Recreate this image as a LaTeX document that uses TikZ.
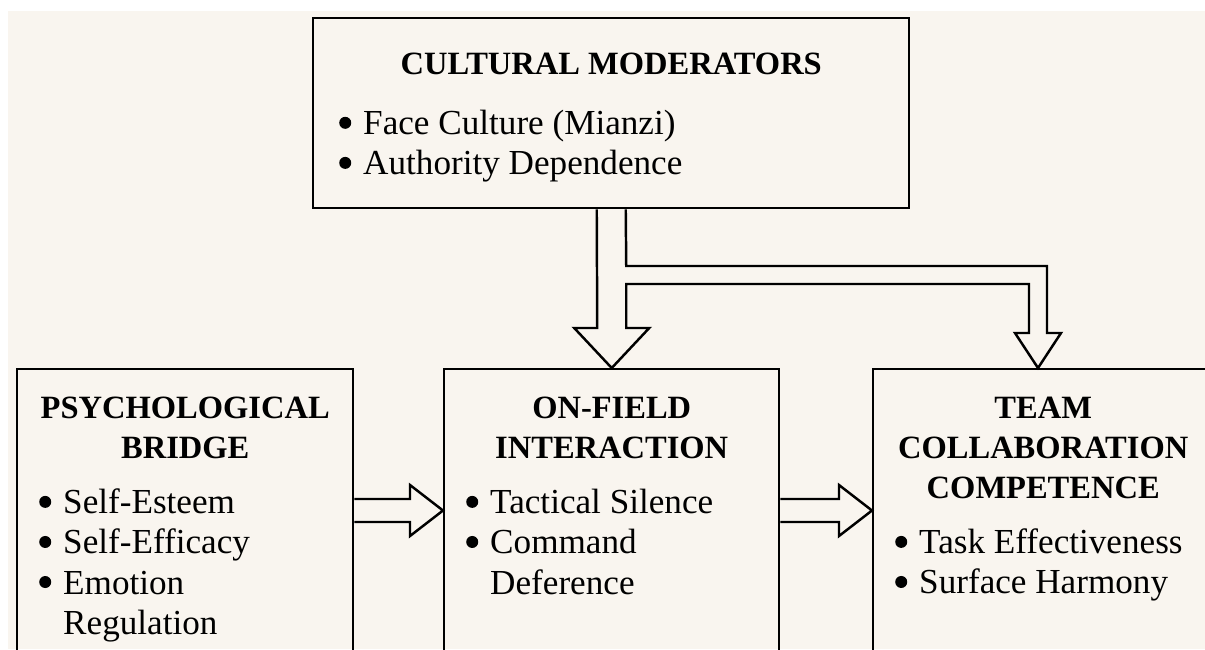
\documentclass[tikz,border=0pt]{standalone}
\usepackage{fontspec}
\setmainfont{Liberation Serif}
\usetikzlibrary{calc}

\definecolor{paper}{RGB}{249,245,239}
\newcommand{\dotmark}{\tikz[baseline=-0.24cm]\fill (0,0) circle (0.12cm);}
\newcommand{\paneltitle}[2][0.3cm]{{\centering\fontsize{18.5}{22.8}\selectfont\bfseries #2\par}\vspace{#1}}
\newcommand{\pitem}[1]{\par\noindent\hangindent=0.48cm\hangafter=1\makebox[0.48cm][l]{\dotmark}#1}
\newcommand{\panelbody}[3]{\parbox[t][#1][t]{#2}{\raggedright\fontsize{20}{22.8}\selectfont #3}}

\begin{document}
\begin{tikzpicture}[
    panel/.style={draw, line width=1.4pt, inner xsep=0.44cm, inner ysep=0.56cm, anchor=north west},
    hollow/.style={draw, fill=paper, line width=1.4pt, line join=miter}]
  \useasboundingbox (0,0) rectangle (24.1,-12.98);
  \clip (0,0) rectangle (24.1,-12.98);
  \fill[white] (0,0) rectangle (24.1,-12.98);
  \fill[paper] (0.16,-0.22) rectangle (24.1,-12.98); % Paper

  \node[panel, inner xsep=0.52cm, inner ysep=0.7cm] (mod) at (6.24,-0.34)
    {\panelbody{2.4cm}{10.88cm}{\paneltitle[0.4cm]{CULTURAL MODERATORS}\pitem{Face Culture (Mianzi)}\pitem{Authority Dependence}}};
  \node[panel] (psych) at (0.32,-7.36)
    {\panelbody{6cm}{5.84cm}{\paneltitle{PSYCHOLOGICAL\\BRIDGE}\pitem{Self-Esteem}\pitem{Self-Efficacy}\pitem{Emotion Regulation}}};
  \node[panel] (onfield) at (8.86,-7.36)
    {\panelbody{6cm}{5.82cm}{\paneltitle{ON-FIELD\\INTERACTION}\pitem{Tactical Silence}\pitem{Command Deference}}};
  \node[panel] (team) at (17.44,-7.36)
    {\panelbody{6cm}{5.92cm}{\paneltitle{TEAM\\COLLABORATION\\COMPETENCE}\pitem{Task Effectiveness}\pitem{Surface Harmony}}};
  \coordinate (branch) at ($(team.north west)+(3.32,0)$);

  % Moderator arrow, split towards both boxes
  \draw[hollow] ($(mod.south)+(-0.29,0)$) -- ($(onfield.north)+(-0.29,0.8)$) -- ++(-0.46,0)
    -- (onfield.north) -- ($(onfield.north)+(0.75,0.8)$) -- ++(-0.46,0)
    -- ($(onfield.north)+(0.29,1.68)$) -- ($(branch)+(-0.18,1.68)$) -- ($(branch)+(-0.18,0.7)$)
    -- ++(-0.28,0) -- (branch) -- ($(branch)+(0.46,0.7)$) -- ++(-0.28,0)
    -- ($(branch)+(0.18,2.04)$) -- ($(onfield.north)+(0.29,2.04)$) -- ($(mod.south)+(0.29,0)$);

  % Main path
  \foreach \a/\b in {psych/onfield,onfield/team}
    \draw[hollow] ($(\a.north east)+(0,-2.62)$) -- ($(\b.north west)+(-0.66,-2.62)$) -- ++(0,0.28)
      -- ($(\b.north west)+(0,-2.85)$) -- ($(\b.north west)+(-0.66,-3.36)$) -- ++(0,0.28)
      -- ($(\a.north east)+(0,-3.08)$);
\end{tikzpicture}
\end{document}
